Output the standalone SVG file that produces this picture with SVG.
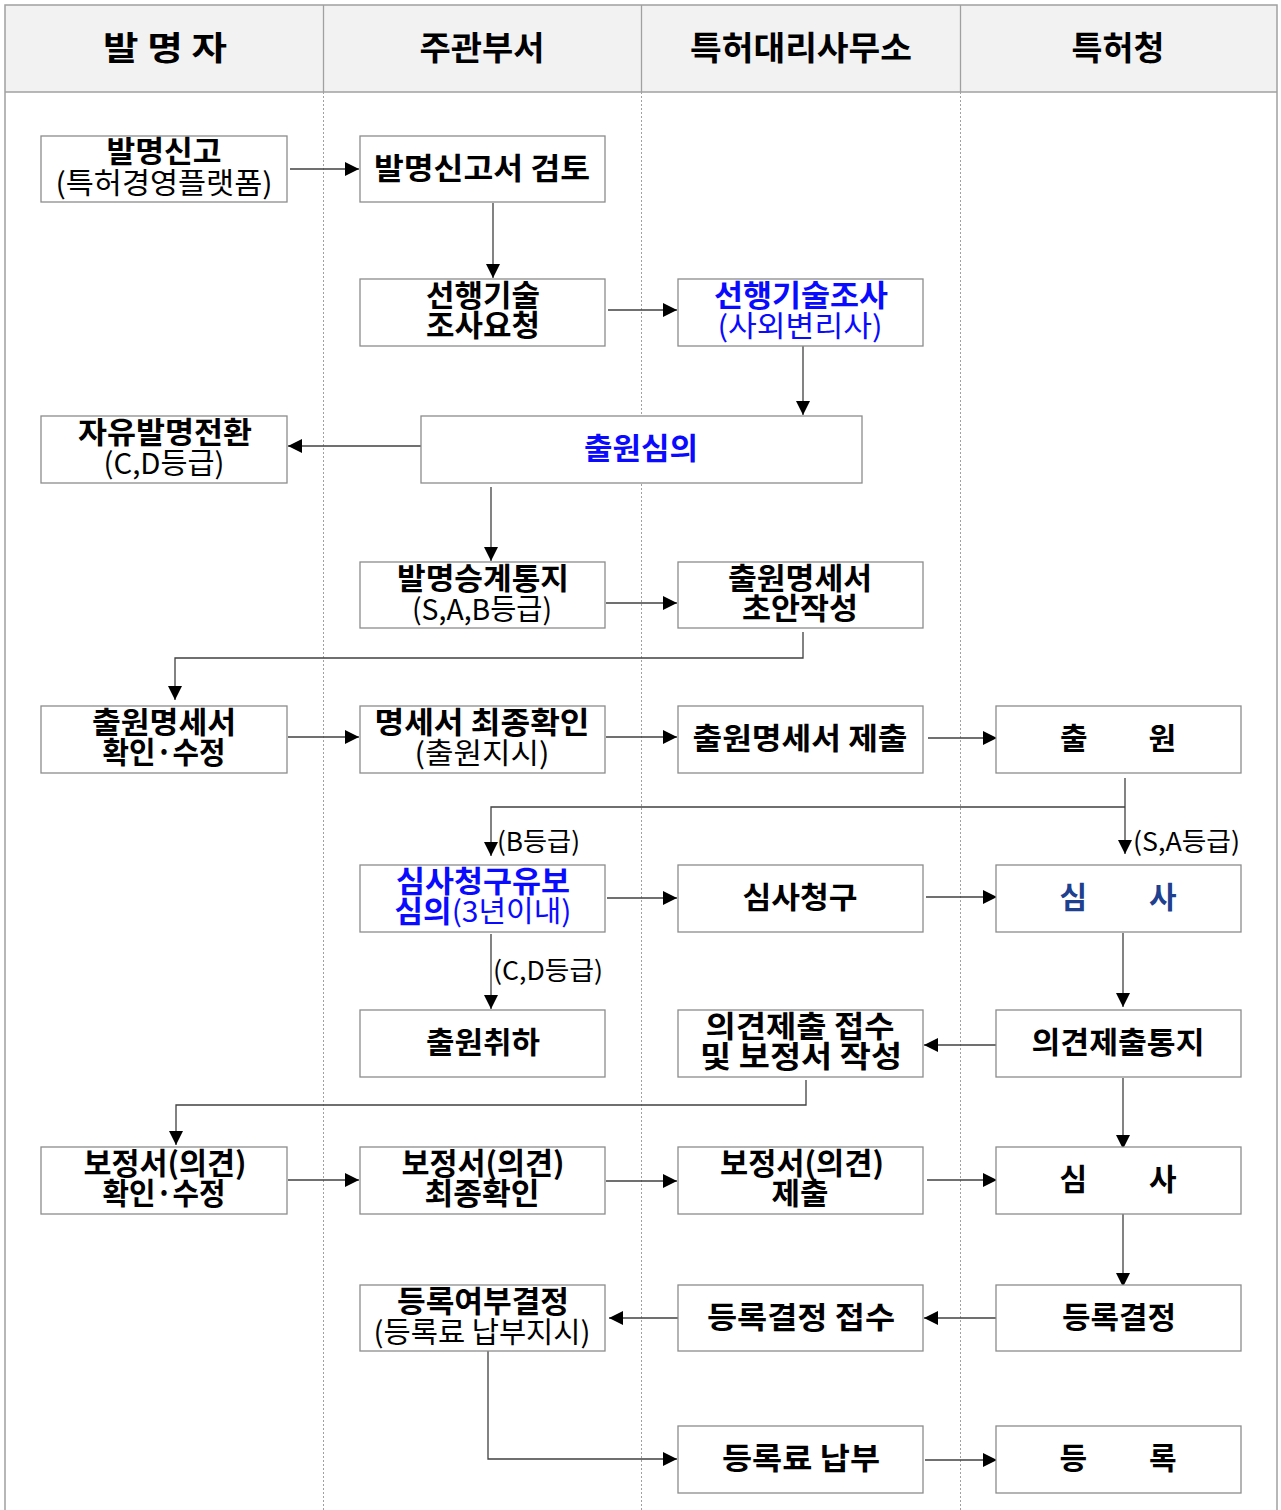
<svg xmlns="http://www.w3.org/2000/svg" width="1281" height="1510" viewBox="0 0 1281 1510">
<style>
text{font-family:"Noto Sans CJK KR","Noto Sans",sans-serif;text-anchor:middle;fill:#000}
.hd{font-size:33px;font-weight:700}
.b{font-size:30px;font-weight:700}
.r{font-size:29px;font-weight:400}
.lbl{font-size:26px;font-weight:400;text-anchor:start}
.blue{fill:#0a0aff}
.navy{fill:#1f3f8f}
.box{fill:#fff;stroke:#8c8c8c;stroke-width:1.3}
.con{fill:none;stroke:#404040;stroke-width:1.3}
.lane{stroke:#a0a0a0;stroke-width:1;stroke-dasharray:2 2}
</style>
<defs>
<marker id="ah" markerUnits="userSpaceOnUse" markerWidth="14" markerHeight="14" refX="14" refY="7" orient="auto">
<path d="M0,0 L14,7 L0,14 z" fill="#000"/>
</marker>
</defs>
<rect width="1281" height="1510" fill="#fff"/>
<g id="lanes">
<rect x="5" y="5" width="1272" height="87" fill="#f2f2f2"/>
<rect x="5" y="5" width="1272" height="1515" fill="none" stroke="#a0a0a0" stroke-width="1.5"/>
<line x1="5" y1="92" x2="1277" y2="92" stroke="#a0a0a0" stroke-width="1.5"/>
<line x1="323.5" y1="5" x2="323.5" y2="92" stroke="#a0a0a0" stroke-width="1.3"/>
<line x1="641.5" y1="5" x2="641.5" y2="92" stroke="#a0a0a0" stroke-width="1.3"/>
<line x1="960.5" y1="5" x2="960.5" y2="92" stroke="#a0a0a0" stroke-width="1.3"/>
<line class="lane" x1="323.5" y1="92" x2="323.5" y2="1510"/>
<line class="lane" x1="641.5" y1="92" x2="641.5" y2="1510"/>
<line class="lane" x1="960.5" y1="92" x2="960.5" y2="1510"/>
<text class="hd" x="165" y="60" textLength="124" lengthAdjust="spacingAndGlyphs">발 명 자</text>
<text class="hd" x="482" y="60" textLength="125" lengthAdjust="spacingAndGlyphs">주관부서</text>
<text class="hd" x="801" y="60" textLength="222" lengthAdjust="spacingAndGlyphs">특허대리사무소</text>
<text class="hd" x="1118" y="60" textLength="93" lengthAdjust="spacingAndGlyphs">특허청</text>
</g>
<g id="connectors">
<path class="con" d="M290,169 H359" marker-end="url(#ah)"/>
<path class="con" d="M493,203 V278" marker-end="url(#ah)"/>
<path class="con" d="M608,310 H677" marker-end="url(#ah)"/>
<path class="con" d="M803,340 V415" marker-end="url(#ah)"/>
<path class="con" d="M421,446 H288" marker-end="url(#ah)"/>
<path class="con" d="M491,487 V561" marker-end="url(#ah)"/>
<path class="con" d="M606,603 H677" marker-end="url(#ah)"/>
<path class="con" d="M803,632 V658 H175 V700" marker-end="url(#ah)"/>
<path class="con" d="M288,737 H359" marker-end="url(#ah)"/>
<path class="con" d="M606,737 H677" marker-end="url(#ah)"/>
<path class="con" d="M928,738 H997" marker-end="url(#ah)"/>
<path class="con" d="M1125,778 V854" marker-end="url(#ah)"/>
<path class="con" d="M1125,807 H491 V856" marker-end="url(#ah)"/>
<path class="con" d="M607,898 H677" marker-end="url(#ah)"/>
<path class="con" d="M926,897 H997" marker-end="url(#ah)"/>
<path class="con" d="M491,934 V1009" marker-end="url(#ah)"/>
<path class="con" d="M1123,933 V1007" marker-end="url(#ah)"/>
<path class="con" d="M996,1045 H924" marker-end="url(#ah)"/>
<path class="con" d="M1123,1078 V1149" marker-end="url(#ah)"/>
<path class="con" d="M806,1080 V1105 H176 V1145" marker-end="url(#ah)"/>
<path class="con" d="M288,1180 H359" marker-end="url(#ah)"/>
<path class="con" d="M606,1181 H677" marker-end="url(#ah)"/>
<path class="con" d="M927,1180 H997" marker-end="url(#ah)"/>
<path class="con" d="M1123,1214 V1287" marker-end="url(#ah)"/>
<path class="con" d="M996,1318 H924" marker-end="url(#ah)"/>
<path class="con" d="M678,1318 H609" marker-end="url(#ah)"/>
<path class="con" d="M488,1351 V1459 H677" marker-end="url(#ah)"/>
<path class="con" d="M925,1460 H997" marker-end="url(#ah)"/>
<text class="lbl" x="1133" y="851" textLength="107" lengthAdjust="spacingAndGlyphs">(S,A등급)</text>
<text class="lbl" x="497" y="851" textLength="83" lengthAdjust="spacingAndGlyphs">(B등급)</text>
<text class="lbl" x="493" y="980" textLength="110" lengthAdjust="spacingAndGlyphs">(C,D등급)</text>
</g>
<g id="n1"><rect class="box" x="41" y="136" width="246" height="66"/><text class="b"><tspan x="164" y="162" textLength="115" lengthAdjust="spacingAndGlyphs">발명신고</tspan><tspan class="r" x="164" y="194" textLength="217" lengthAdjust="spacingAndGlyphs">(특허경영플랫폼)</tspan></text></g>
<g id="n2"><rect class="box" x="360" y="136" width="245" height="66"/><text class="b" x="482" y="179" textLength="216" lengthAdjust="spacingAndGlyphs">발명신고서 검토</text></g>
<g id="n3"><rect class="box" x="360" y="279" width="245" height="67"/><text class="b"><tspan x="483" y="306" textLength="114" lengthAdjust="spacingAndGlyphs">선행기술</tspan><tspan x="483" y="336" textLength="114" lengthAdjust="spacingAndGlyphs">조사요청</tspan></text></g>
<g id="n4"><rect class="box" x="678" y="279" width="245" height="67"/><text class="b blue"><tspan x="801" y="306" textLength="174" lengthAdjust="spacingAndGlyphs">선행기술조사</tspan><tspan class="r" x="800" y="337" textLength="165" lengthAdjust="spacingAndGlyphs">(사외변리사)</tspan></text></g>
<g id="n5"><rect class="box" x="421" y="416" width="441" height="67"/><text class="b blue" x="641" y="459" textLength="114" lengthAdjust="spacingAndGlyphs">출원심의</text></g>
<g id="n6"><rect class="box" x="41" y="416" width="246" height="67"/><text class="b"><tspan x="165" y="443" textLength="174" lengthAdjust="spacingAndGlyphs">자유발명전환</tspan><tspan class="r" x="164" y="474" textLength="121" lengthAdjust="spacingAndGlyphs">(C,D등급)</tspan></text></g>
<g id="n7"><rect class="box" x="360" y="562" width="245" height="66"/><text class="b"><tspan x="483" y="589" textLength="172" lengthAdjust="spacingAndGlyphs">발명승계통지</tspan><tspan class="r" x="482" y="620" textLength="140" lengthAdjust="spacingAndGlyphs">(S,A,B등급)</tspan></text></g>
<g id="n8"><rect class="box" x="678" y="562" width="245" height="66"/><text class="b"><tspan x="800" y="589" textLength="144" lengthAdjust="spacingAndGlyphs">출원명세서</tspan><tspan x="800" y="619" textLength="116" lengthAdjust="spacingAndGlyphs">초안작성</tspan></text></g>
<g id="n9"><rect class="box" x="41" y="706" width="246" height="67"/><text class="b"><tspan x="164" y="733" textLength="144" lengthAdjust="spacingAndGlyphs">출원명세서</tspan><tspan x="164" y="763" textLength="123" lengthAdjust="spacingAndGlyphs">확인·수정</tspan></text></g>
<g id="n10"><rect class="box" x="360" y="706" width="245" height="67"/><text class="b"><tspan x="482" y="733" textLength="215" lengthAdjust="spacingAndGlyphs">명세서 최종확인</tspan><tspan class="r" x="482" y="764" textLength="135" lengthAdjust="spacingAndGlyphs">(출원지시)</tspan></text></g>
<g id="n11"><rect class="box" x="678" y="706" width="245" height="67"/><text class="b" x="800" y="749" textLength="215" lengthAdjust="spacingAndGlyphs">출원명세서 제출</text></g>
<g id="n12"><rect class="box" x="996" y="706" width="245" height="67"/><text class="b" x="1118" y="749" textLength="116" lengthAdjust="spacing">출 원</text></g>
<g id="n13"><rect class="box" x="360" y="865" width="245" height="67"/><text class="b blue"><tspan x="483" y="892" textLength="174" lengthAdjust="spacingAndGlyphs">심사청구유보</tspan><tspan x="483" y="922" textLength="177" lengthAdjust="spacingAndGlyphs"><tspan>심의</tspan><tspan class="r">(3년이내)</tspan></tspan></text></g>
<g id="n14"><rect class="box" x="678" y="865" width="245" height="67"/><text class="b" x="800" y="908" textLength="115" lengthAdjust="spacingAndGlyphs">심사청구</text></g>
<g id="n15"><rect class="box" x="996" y="865" width="245" height="67"/><text class="b navy" x="1118" y="908" textLength="117" lengthAdjust="spacing">심 사</text></g>
<g id="n16"><rect class="box" x="360" y="1010" width="245" height="67"/><text class="b" x="483" y="1053" textLength="114" lengthAdjust="spacingAndGlyphs">출원취하</text></g>
<g id="n17"><rect class="box" x="678" y="1010" width="245" height="67"/><text class="b"><tspan x="800" y="1037" textLength="189" lengthAdjust="spacingAndGlyphs">의견제출 접수</tspan><tspan x="801" y="1067" textLength="202" lengthAdjust="spacingAndGlyphs">및 보정서 작성</tspan></text></g>
<g id="n18"><rect class="box" x="996" y="1010" width="245" height="67"/><text class="b" x="1118" y="1053" textLength="173" lengthAdjust="spacingAndGlyphs">의견제출통지</text></g>
<g id="n19"><rect class="box" x="41" y="1147" width="246" height="67"/><text class="b"><tspan x="165" y="1174" textLength="163" lengthAdjust="spacingAndGlyphs">보정서(의견)</tspan><tspan x="164" y="1204" textLength="123" lengthAdjust="spacingAndGlyphs">확인·수정</tspan></text></g>
<g id="n20"><rect class="box" x="360" y="1147" width="245" height="67"/><text class="b"><tspan x="483" y="1174" textLength="163" lengthAdjust="spacingAndGlyphs">보정서(의견)</tspan><tspan x="482" y="1204" textLength="115" lengthAdjust="spacingAndGlyphs">최종확인</tspan></text></g>
<g id="n21"><rect class="box" x="678" y="1147" width="245" height="67"/><text class="b"><tspan x="802" y="1174" textLength="164" lengthAdjust="spacingAndGlyphs">보정서(의견)</tspan><tspan x="800" y="1204" textLength="57" lengthAdjust="spacingAndGlyphs">제출</tspan></text></g>
<g id="n22"><rect class="box" x="996" y="1147" width="245" height="67"/><text class="b" x="1118" y="1190" textLength="117" lengthAdjust="spacing">심 사</text></g>
<g id="n23"><rect class="box" x="360" y="1285" width="245" height="66"/><text class="b"><tspan x="483" y="1312" textLength="172" lengthAdjust="spacingAndGlyphs">등록여부결정</tspan><tspan class="r" x="482" y="1343" textLength="217" lengthAdjust="spacingAndGlyphs">(등록료 납부지시)</tspan></text></g>
<g id="n24"><rect class="box" x="678" y="1285" width="245" height="66"/><text class="b" x="801" y="1328" textLength="188" lengthAdjust="spacingAndGlyphs">등록결정 접수</text></g>
<g id="n25"><rect class="box" x="996" y="1285" width="245" height="66"/><text class="b" x="1119" y="1328" textLength="114" lengthAdjust="spacingAndGlyphs">등록결정</text></g>
<g id="n26"><rect class="box" x="678" y="1426" width="245" height="67"/><text class="b" x="801" y="1469" textLength="158" lengthAdjust="spacingAndGlyphs">등록료 납부</text></g>
<g id="n27"><rect class="box" x="996" y="1426" width="245" height="67"/><text class="b" x="1118" y="1469" textLength="117" lengthAdjust="spacing">등 록</text></g>
</svg>
